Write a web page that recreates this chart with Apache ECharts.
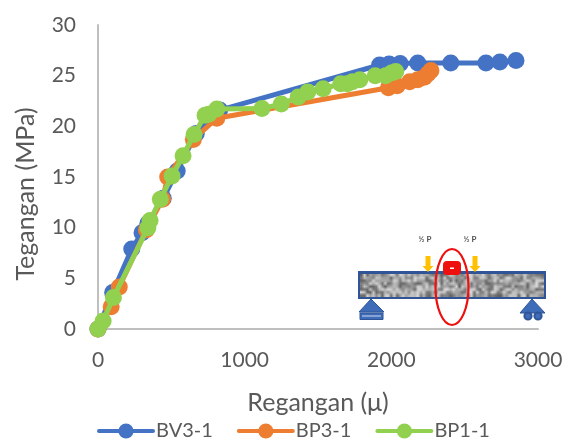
<!DOCTYPE html>
<html>
<head>
<meta charset="utf-8">
<style>html,body{margin:0;padding:0;background:#fff}#c{width:573px;height:441px}</style>
<script src="https://cdn.jsdelivr.net/npm/echarts@6/dist/echarts.min.js"></script>
</head>
<body>
<div id="c"></div>
<script>
const seriesNames = ['BV3-1', 'BP3-1', 'BP1-1'];
const bv31 = [[0,0],[100,3.6],[230,7.9],[300,9.5],[340,10.4],[445,12.9],[540,15.6],[670,19.3],[830,21.6],[1920,26.05],[1985,26.15],[2060,26.2],[2180,26.25],[2405,26.25],[2645,26.25],[2740,26.35],[2850,26.5]];
const bp31 = [[0,0],[90,2.2],[145,4.15],[330,9.8],[440,12.8],[475,15],[650,18.7],[810,20.8],[1980,23.8],[2040,24],[2125,24.4],[2180,24.6],[2225,24.85],[2250,25.2],[2270,25.5]];
const bp11 = [[0,0],[35,0.8],[105,3.1],[340,10],[355,10.7],[425,12.8],[505,15.1],[580,17.1],[655,19.2],[730,21.1],[755,21.2],[810,21.7],[1118,21.75],[1250,22.2],[1365,22.9],[1430,23.4],[1535,23.7],[1655,24.2],[1700,24.2],[1735,24.4],[1785,24.6],[1890,25],[1960,25],[2005,25.3],[2030,25.4]];
const colors = ['#4472c4', '#ed7d31', '#92d050'];
const FONT = 'Lato, "Open Sans", sans-serif';
const TXT = '#595959';

// concrete texture for the inset sketch (deterministic mottling)
function texture() {
  const w = 62, h = 8, cv = document.createElement('canvas');
  cv.width = w; cv.height = h;
  const g = cv.getContext('2d');
  for (let y = 0; y < h; y++) for (let x = 0; x < w; x++) {
    const s = Math.sin(x * 12.9898 + y * 78.233) * 43758.5453;
    const f = s - Math.floor(s);
    const v = Math.round(95 + f * 125);
    g.fillStyle = `rgb(${v},${v},${v})`;
    g.fillRect(x, y, 1, 1);
  }
  return cv;
}
const dark = '#2f5597', mid = '#3f6cb8', yellow = '#ffc000', red = '#ee0f0f';
function arrow(x) {
  return {type:'polygon', z:10, shape:{points:[[x-2.5,256],[x+2.5,256],[x+2.5,266],[x+5.5,266],[x,272],[x-5.5,266],[x-2.5,266]]}, style:{fill:yellow}};
}
const inset = [
  {type:'rect', z:10, shape:{x:358,y:271,width:188,height:28}, style:{fill:dark}},
  {type:'image', z:11, style:{image:texture(), x:360, y:273.5, width:184, height:23}},
  arrow(428), arrow(475),
  {type:'text', z:12, style:{x:425,y:239,text:'½ P',font:'bold 8px Lato, sans-serif',fill:'#505050',align:'center',verticalAlign:'middle'}},
  {type:'text', z:12, style:{x:470,y:239,text:'½ P',font:'bold 8px Lato, sans-serif',fill:'#505050',align:'center',verticalAlign:'middle'}},
  {type:'polygon', z:10, shape:{points:[[371,299],[384,312],[359,312]]}, style:{fill:mid,stroke:dark,lineWidth:1}},
  {type:'rect', z:10, shape:{x:360,y:313,width:23,height:6.5}, style:{fill:mid,stroke:dark,lineWidth:1}},
  {type:'line', z:11, shape:{x1:362,y1:316,x2:381,y2:316}, style:{stroke:'#cfd9ee',lineWidth:1}},
  {type:'polygon', z:10, shape:{points:[[532,299],[545,313],[520,313]]}, style:{fill:mid,stroke:dark,lineWidth:1}},
  {type:'circle', z:10, shape:{cx:528,cy:316,r:3.6}, style:{fill:mid,stroke:dark,lineWidth:2}},
  {type:'circle', z:10, shape:{cx:538,cy:316,r:3.6}, style:{fill:mid,stroke:dark,lineWidth:2}},
  {type:'ellipse', z:12, shape:{cx:452,cy:287,rx:16.5,ry:38}, style:{fill:'none',stroke:red,lineWidth:2.2}},
  {type:'rect', z:13, shape:{x:443,y:261,width:18,height:14,r:4}, style:{fill:red}},
  {type:'rect', z:14, shape:{x:450,y:267.5,width:4,height:1.5}, style:{fill:'#fff'}}
];

const chart = echarts.init(document.getElementById('c'), null, {renderer:'canvas'});
chart.setOption({
  animation:false,
  backgroundColor:'#fff',
  grid:{left:98,right:35,top:25,bottom:112,containLabel:false},
  legend:{
    left:92, top:416, itemWidth:54, itemHeight:19, itemGap:24,
    lineStyle:{width:4,cap:'round'},
    textStyle:{fontFamily:FONT,fontSize:20,color:TXT,padding:[0,0,0,-2]},
    data:seriesNames
  },
  xAxis:{
    type:'value',min:0,max:3000,interval:1000,
    name:'Regangan (μ)',nameLocation:'middle',nameGap:61,
    nameTextStyle:{fontFamily:FONT,fontSize:25,color:TXT},
    axisLine:{show:true,lineStyle:{color:'#bfbfbf',width:2}},
    axisTick:{show:false},splitLine:{show:false},
    axisLabel:{fontFamily:FONT,fontSize:21,color:TXT,margin:21,formatter:v=>String(v)}
  },
  yAxis:{
    type:'value',min:0,max:30,interval:5,
    name:'Tegangan (MPa)',nameLocation:'middle',nameGap:60,
    nameTextStyle:{fontFamily:FONT,fontSize:25,color:TXT,padding:[0,34,0,0]},
    axisLine:{show:true,lineStyle:{color:'#bfbfbf',width:2}},
    axisTick:{show:false},splitLine:{show:false},
    axisLabel:{fontFamily:FONT,fontSize:21,color:TXT,margin:22}
  },
  series:[bv31,bp31,bp11].map((d,i)=>({
    name:seriesNames[i],type:'line',data:d,symbol:'circle',symbolSize:17,
    showSymbol:true,showAllSymbols:true,clip:false,
    lineStyle:{color:colors[i],width:5,cap:'round',join:'round'},
    itemStyle:{color:colors[i]},
    z:2+i
  })),
  graphic:inset
});
</script>
</body>
</html>
